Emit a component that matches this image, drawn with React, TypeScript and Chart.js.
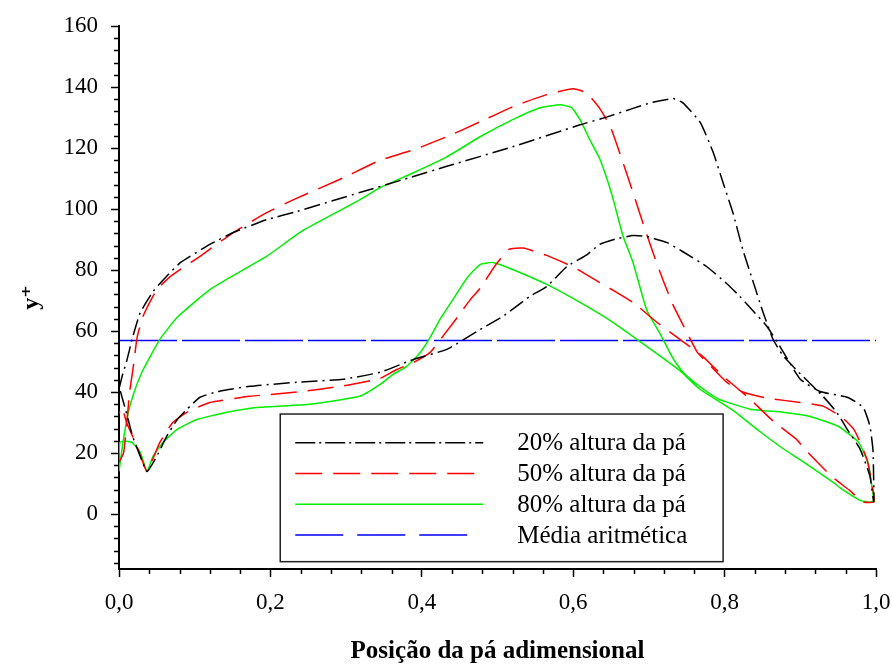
import React, { useEffect, useRef } from 'react';
import { Chart, registerables } from 'chart.js';

Chart.register(...registerables);

// ---------- tick labels ----------
const xTickValues = [0, 0.2, 0.4, 0.6, 0.8, 1.0];
const yTickValues = [0, 20, 40, 60, 80, 100, 120, 140, 160];
const xMinorTickValues = [0.04, 0.08, 0.12, 0.16, 0.24, 0.28, 0.32, 0.36, 0.44, 0.48, 0.52, 0.56, 0.64, 0.68, 0.72, 0.76, 0.84, 0.88, 0.92, 0.96];
const yMinorTickValues = [-16, -12, -8, -4, 4, 8, 12, 16, 24, 28, 32, 36, 44, 48, 52, 56, 64, 68, 72, 76, 84, 88, 92, 96, 104, 108, 112, 116, 124, 128, 132, 136, 144, 148, 152, 156];

const seriesLabels = ['20% altura da pá', '50% altura da pá', '80% altura da pá', 'Média aritmética'];
const xAxisTitle = 'Posição da pá adimensional';
const yAxisTitle = 'y⁺';

// ---------- 20% blade height (closed loop: upper side then lower side) ----------
const h20x = [0, 0.005, 0.01, 0.018, 0.028, 0.045, 0.063, 0.081, 0.12, 0.151, 0.195, 0.235, 0.318, 0.384, 0.433, 0.52, 0.609, 0.645, 0.679, 0.705, 0.732, 0.745, 0.768, 0.785, 0.798, 0.811, 0.824, 0.838, 0.851, 0.864, 0.877, 0.9, 0.93, 0.948, 0.962, 0.979, 0.992, 0.997,
  0.997, 0.996, 0.992, 0.983, 0.962, 0.926, 0.9, 0.873, 0.856, 0.838, 0.82, 0.803, 0.777, 0.745, 0.724, 0.697, 0.679, 0.658, 0.635, 0.618, 0.592, 0.565, 0.543, 0.507, 0.477, 0.433, 0.389, 0.345, 0.296, 0.235, 0.173, 0.133, 0.107, 0.09, 0.077, 0.063, 0.05, 0.037, 0.028, 0.018, 0.01, 0.001];
const h20y = [41, 46, 50, 58, 66, 73, 78, 82.4, 88.4, 92.3, 96.5, 99.2, 105.4, 110.3, 114, 120.4, 127.6, 130.2, 133, 135, 136.2, 134.8, 128.3, 118.5, 108.6, 98.8, 86.7, 75.9, 66, 57.3, 52, 46, 38.6, 33.4, 27.8, 21.3, 12.4, 4,
  10, 21, 28.8, 35, 38.3, 40.2, 44.2, 55, 61.5, 66.5, 71.4, 75.5, 81, 86, 89, 91, 91.3, 90.3, 88.4, 85, 81.2, 74.6, 71.4, 64.8, 60.5, 54, 50.7, 46.5, 44.2, 43.2, 41.9, 40.3, 38.3, 34.4, 31, 25.5, 19, 14, 19, 25.5, 33, 41];

// ---------- 50% blade height ----------
const h50x = [0, 0.006, 0.01, 0.014, 0.019, 0.024, 0.032, 0.05, 0.071, 0.107, 0.151, 0.195, 0.23, 0.296, 0.345, 0.389, 0.433, 0.477, 0.52, 0.565, 0.6, 0.618, 0.635, 0.649, 0.662, 0.679, 0.692, 0.705, 0.719, 0.732, 0.75, 0.764, 0.777, 0.803, 0.824, 0.856, 0.9, 0.93, 0.956, 0.972, 0.988, 0.996, 0.997,
  0.983, 0.964, 0.941, 0.907, 0.895, 0.864, 0.834, 0.798, 0.771, 0.741, 0.711, 0.679, 0.658, 0.635, 0.6, 0.565, 0.534, 0.515, 0.497, 0.477, 0.464, 0.447, 0.43, 0.411, 0.389, 0.367, 0.345, 0.296, 0.235, 0.173, 0.12, 0.09, 0.071, 0.054, 0.037, 0.03, 0.024, 0.017, 0.01, 0.004, 0];
const h50y = [17, 20, 29, 40, 48.5, 58, 65, 73.6, 78.5, 84.5, 92.3, 98.8, 103, 110.2, 116, 119.4, 123.7, 128.6, 133.5, 137.5, 139.4, 138, 133, 127, 118, 105.4, 95.5, 86, 76.5, 68.5, 59.6, 53, 49.7, 43.2, 40, 38, 36.6, 35.4, 31.5, 27.3, 18, 8, 4,
  4, 8, 12.4, 21, 24.5, 30.5, 37.6, 45.2, 51.7, 57.3, 62.8, 69.4, 72.6, 75.9, 81, 84.8, 87.2, 86.8, 81.5, 74, 70.3, 64.5, 59, 53, 49.7, 47.4, 44.5, 42, 40, 38.6, 36.6, 33.4, 30, 23.5, 14, 18, 22, 26, 30, 35, 33];

// ---------- 80% blade height ----------
const h80x = [0, 0.005, 0.012, 0.02, 0.032, 0.054, 0.077, 0.12, 0.16, 0.195, 0.243, 0.318, 0.345, 0.389, 0.433, 0.477, 0.52, 0.556, 0.583, 0.598, 0.609, 0.622, 0.635, 0.645, 0.653, 0.666, 0.679, 0.697, 0.715, 0.732, 0.745, 0.767, 0.793, 0.834, 0.877, 0.913, 0.95, 0.977, 0.99, 0.995, 0.997,
  0.992, 0.979, 0.956, 0.943, 0.9, 0.877, 0.847, 0.811, 0.767, 0.741, 0.697, 0.653, 0.609, 0.565, 0.52, 0.494, 0.477, 0.46, 0.441, 0.424, 0.411, 0.398, 0.38, 0.362, 0.345, 0.318, 0.252, 0.186, 0.143, 0.103, 0.077, 0.058, 0.045, 0.037, 0.028, 0.017, 0.008, 0.001, 0];
const h80y = [14, 23, 33, 40, 47.4, 57.3, 64.5, 73.6, 79.5, 84.5, 93, 103, 107, 111.9, 117.1, 123.7, 129.3, 133.2, 134.2, 133.2, 129.3, 122.7, 116.5, 109.6, 103, 91, 82.5, 67, 59, 51, 46.5, 41.9, 37.6, 34.4, 33.4, 32, 28.8, 23.5, 16.5, 8.2, 4.5,
  3.9, 4.5, 8, 10.5, 17.8, 21.5, 27, 34, 41, 47, 55, 62.8, 69.4, 75.3, 80.2, 82.5, 81.8, 77.5, 70.3, 63.8, 57.9, 53, 48.4, 45.8, 42.5, 38.6, 36, 35, 33.4, 31, 27.8, 23.5, 19, 14, 20.3, 23.5, 24, 23.5, 16];

// ---------- arithmetic mean ----------
const meanX = [0, 1];
const meanY = [56.9, 56.9];

const serifFamily = "'Liberation Serif', 'DejaVu Serif', 'Times New Roman', serif";

function pts(xs: number[], ys: number[]) {
  return xs.map((x, i) => ({ x, y: ys[i] }));
}

const minorTicksPlugin = {
  id: 'minorTicks',
  afterDraw(chart: any) {
    const { ctx, chartArea, scales } = chart;
    ctx.save();
    ctx.strokeStyle = '#000';
    ctx.lineWidth = 1.5;
    ctx.beginPath();
    xMinorTickValues.forEach((v) => {
      const px = Math.round(scales.x.getPixelForValue(v)) + 0.5;
      ctx.moveTo(px, chartArea.bottom);
      ctx.lineTo(px, chartArea.bottom + 5);
    });
    yMinorTickValues.forEach((v) => {
      const py = Math.round(scales.y.getPixelForValue(v)) + 0.5;
      ctx.moveTo(chartArea.left, py);
      ctx.lineTo(chartArea.left - 5, py);
    });
    ctx.stroke();
    ctx.restore();
  },
};

const legendBoxPlugin = {
  id: 'legendBox',
  afterDraw(chart: any) {
    const { ctx, scales } = chart;
    const x0 = scales.x.getPixelForValue(0.213);
    const x1 = scales.x.getPixelForValue(0.798);
    const yTop = scales.y.getPixelForValue(32.8);
    const yBot = scales.y.getPixelForValue(-15.6);
    ctx.save();
    ctx.fillStyle = '#fff';
    ctx.fillRect(x0, yTop, x1 - x0, yBot - yTop);
    ctx.strokeStyle = '#222';
    ctx.lineWidth = 1.5;
    ctx.strokeRect(x0, yTop, x1 - x0, yBot - yTop);
    const rowH = (yBot - yTop) / 4.8;
    const lineStart = x0 + 15;
    const lineEnd = x0 + 203;
    const textX = x0 + 237;
    chart.data.datasets.forEach((ds: any, i: number) => {
      const cy = yTop + rowH * (1 + i) - 2;
      ctx.save();
      ctx.strokeStyle = ds.borderColor;
      ctx.lineWidth = ds.borderWidth;
      ctx.setLineDash(ds.legendDash || []);
      ctx.beginPath();
      ctx.moveTo(lineStart, cy);
      ctx.lineTo(i === 3 ? lineEnd - 12 : lineEnd, cy);
      ctx.stroke();
      ctx.restore();
      ctx.fillStyle = '#000';
      ctx.font = `25px ${serifFamily}`;
      ctx.textBaseline = 'middle';
      ctx.textAlign = 'left';
      ctx.fillText(ds.label, textX, cy + 1);
    });
    ctx.restore();
  },
};

export default function App() {
  const canvasRef = useRef<HTMLCanvasElement | null>(null);

  useEffect(() => {
    if (!canvasRef.current) return;
    const common = { showLine: true, pointRadius: 0, pointHoverRadius: 0, fill: false, tension: 0.15, borderWidth: 1.5 };
    const chart = new Chart(canvasRef.current, {
      type: 'scatter',
      data: {
        datasets: [
          { ...common, label: seriesLabels[0], data: pts(h20x, h20y), borderColor: '#000000', borderDash: [16, 5, 2, 5], legendDash: [20, 4, 2, 4] } as any,
          { ...common, label: seriesLabels[1], data: pts(h50x, h50y), borderColor: '#ff0000', borderDash: [26, 11], legendDash: [27, 11] } as any,
          { ...common, label: seriesLabels[2], data: pts(h80x, h80y), borderColor: '#00ee00', legendDash: [] } as any,
          { ...common, label: seriesLabels[3], data: pts(meanX, meanY), borderColor: '#0000ff', tension: 0, borderDash: [58, 5], legendDash: [48, 14] } as any,
        ],
      },
      options: {
        responsive: false,
        animation: false,
        events: [],
        layout: { padding: { top: 26, right: 16, left: 0, bottom: 0 } },
        plugins: {
          legend: { display: false },
          tooltip: { enabled: false },
        },
        scales: {
          x: {
            type: 'linear',
            min: 0,
            max: 1,
            afterFit: (s: any) => { s.height = 95; s.paddingLeft = 0; s.paddingRight = 0; },
            afterBuildTicks: (s: any) => { s.ticks = xTickValues.map((value) => ({ value })); },
            ticks: {
              autoSkip: false,
              maxRotation: 0,
              padding: 12,
              color: '#000',
              font: { family: serifFamily, size: 23 },
              callback: (v: any) => Number(v).toFixed(1).replace('.', ','),
            },
            grid: { display: true, drawOnChartArea: false, drawTicks: true, tickLength: 8, color: '#000', tickWidth: 1.5 },
            border: { display: true, color: '#000', width: 2 },
            title: {
              display: true,
              text: xAxisTitle,
              color: '#000',
              font: { family: serifFamily, size: 25, weight: 'bold', lineHeight: 1 },
              padding: { top: 0, bottom: 0 },
            },
          },
          y: {
            type: 'linear',
            min: -18,
            max: 160,
            afterFit: (s: any) => { s.width = 119; s.paddingTop = 0; s.paddingBottom = 0; },
            afterBuildTicks: (s: any) => { s.ticks = yTickValues.map((value) => ({ value })); },
            ticks: {
              autoSkip: false,
              padding: 13,
              color: '#000',
              font: { family: serifFamily, size: 23 },
              callback: (v: any) => String(v),
            },
            grid: { display: true, drawOnChartArea: false, drawTicks: true, tickLength: 8, color: '#000', tickWidth: 1.5 },
            border: { display: true, color: '#000', width: 2 },
            title: {
              display: true,
              text: yAxisTitle,
              color: '#000',
              font: { family: serifFamily, size: 24, weight: 'bold', lineHeight: 1.2 },
              padding: { top: 17, bottom: 0 },
            },
          },
        },
      },
      plugins: [minorTicksPlugin, legendBoxPlugin],
    });
    return () => chart.destroy();
  }, []);

  return (
    <div style={{ position: 'fixed', left: 0, top: 0, width: 892, height: 664, background: '#fff' }}>
      <canvas ref={canvasRef} width={892} height={664} style={{ display: 'block' }} />
    </div>
  );
}
